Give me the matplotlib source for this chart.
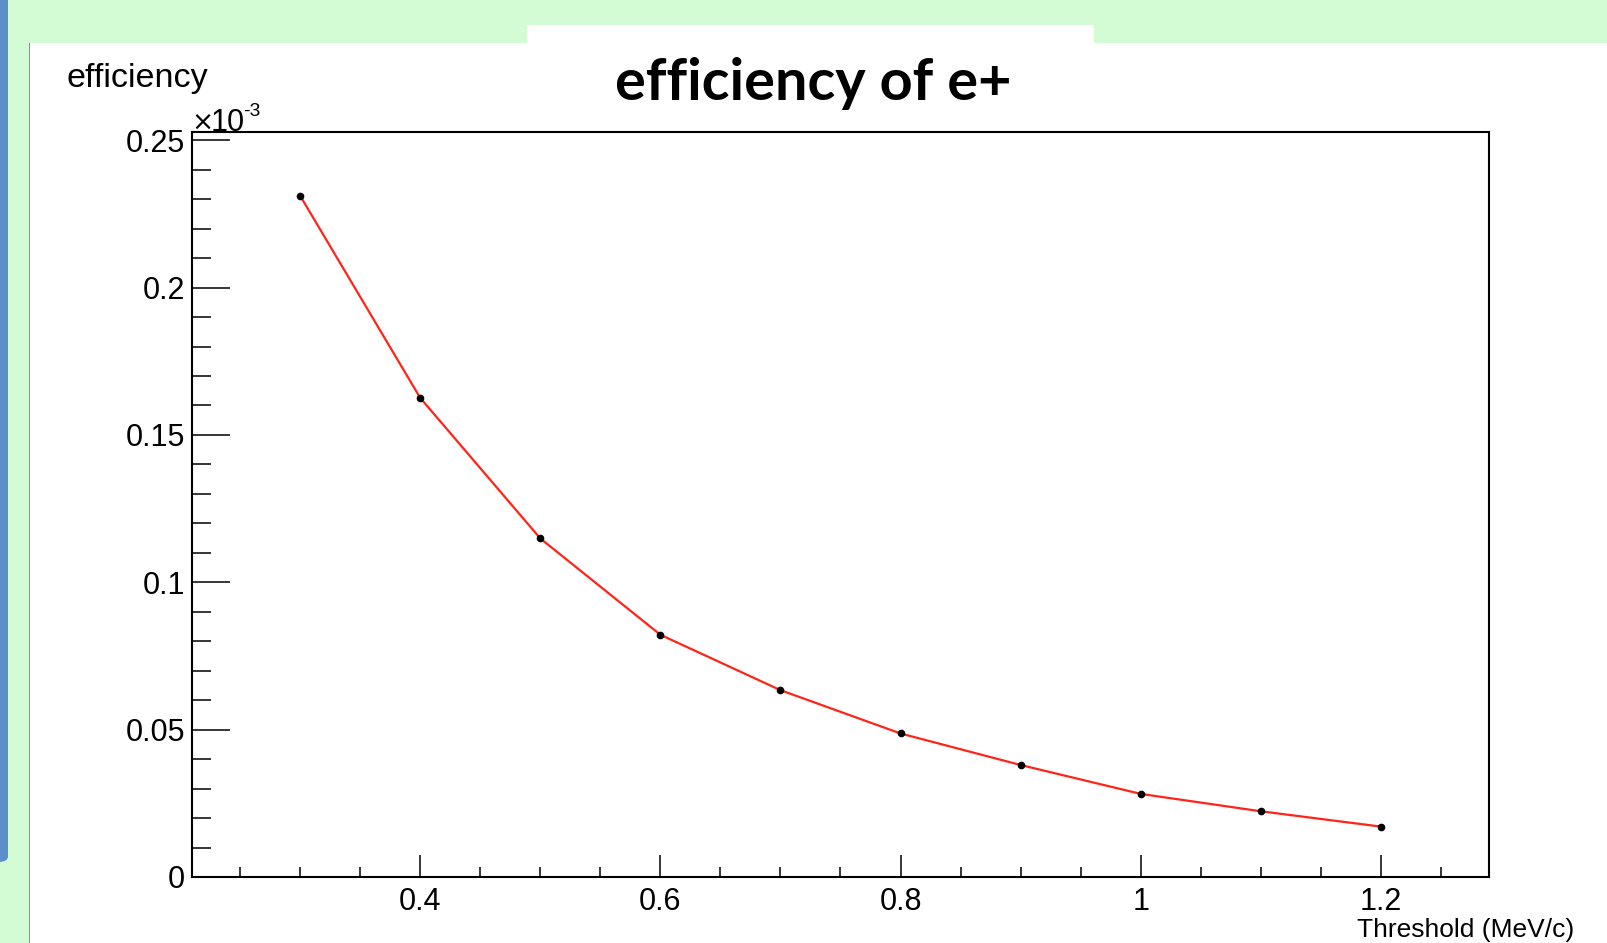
import matplotlib
matplotlib.use('Agg')
import matplotlib.pyplot as plt
from matplotlib.patches import Rectangle, FancyBboxPatch
from matplotlib.ticker import MultipleLocator, FuncFormatter

# -------------------------------------------------------------------------------------------------------
threshold = [0.3, 0.4, 0.5, 0.6, 0.7, 0.8, 0.9, 1.0, 1.1, 1.2]
efficiency = [0.2312, 0.1626, 0.1149, 0.0822, 0.0634, 0.0487, 0.0380, 0.0282, 0.0223, 0.0171]  # x 1e-3

title = 'efficiency of e+'
x_title = 'Threshold (MeV/c)'
y_title = 'efficiency'

W, H = 1608, 943
green = '#d4fcd4'
blue = '#5b8fc9'


def fx(px):
    return px / W


def fy(py):
    # py counted from the top of the picture
    return 1 - py / H


# -------------------------------------------------------------------------------------------------------
def main():
    plt.rcParams['font.family'] = ['Liberation Sans', 'DejaVu Sans']
    fig = plt.figure(figsize=(W / 100, H / 100), dpi=100, facecolor='white')

    # slide decoration
    fig.patches.append(Rectangle((0, fy(43)), 1, 43 / H, transform=fig.transFigure,
                                 facecolor=green, edgecolor='none', zorder=0))
    fig.patches.append(Rectangle((0, 0), fx(29), 1, transform=fig.transFigure,
                                 facecolor=green, edgecolor='none', zorder=0))
    fig.patches.append(FancyBboxPatch((-0.01, fy(862)), fx(8) + 0.01, 1, transform=fig.transFigure,
                                      boxstyle='round,pad=0,rounding_size=0.006',
                                      facecolor=blue, edgecolor='none', zorder=1))
    fig.patches.append(Rectangle((fx(29), 0), fx(1.5), fy(43), transform=fig.transFigure,
                                 facecolor='#909090', edgecolor='none', zorder=1))
    fig.patches.append(Rectangle((fx(527), fy(43)), fx(1094 - 527), 18 / H, transform=fig.transFigure,
                                 facecolor='white', edgecolor='none', zorder=1))

    ax = fig.add_axes([fx(192), fy(877), fx(1489 - 192), (877 - 132) / H])
    ax.plot(threshold, efficiency, color='#ff2418', lw=1.6, zorder=2)
    ax.plot(threshold, efficiency, 'o', color='black', ms=4.5, zorder=3)

    ax.set_xlim(0.21, 1.29)
    ax.set_ylim(0, 0.2528)

    for s in ax.spines.values():
        s.set_linewidth(1.5)

    ax.xaxis.set_major_locator(MultipleLocator(0.2))
    ax.xaxis.set_minor_locator(MultipleLocator(0.05))
    ax.yaxis.set_major_locator(MultipleLocator(0.05))
    ax.yaxis.set_minor_locator(MultipleLocator(0.01))
    ax.xaxis.set_major_formatter(FuncFormatter(lambda v, p: '%g' % round(v, 3)))
    ax.yaxis.set_major_formatter(FuncFormatter(lambda v, p: '%g' % round(v, 3)))

    ax.tick_params(axis='both', which='both', direction='in', width=1.1, labelsize=22,
                   top=False, right=False)
    ax.tick_params(axis='x', which='major', length=16, pad=7)
    ax.tick_params(axis='x', which='minor', length=7.5)
    ax.tick_params(axis='y', which='major', length=27, pad=5)
    ax.tick_params(axis='y', which='minor', length=13.5)

    # ROOT style exponent label
    fig.text(fx(191), fy(131), '\u00d7', fontsize=19, va='baseline', ha='left',
             family=['DejaVu Sans'])
    fig.text(fx(211), fy(131), '10', fontsize=22, va='baseline', ha='left')
    fig.text(fx(243), fy(116), '-3', fontsize=14, va='baseline', ha='left')

    fig.text(fx(67), fy(78), y_title, fontsize=24.5, va='center', ha='left')
    fig.text(fx(1574), fy(942), x_title, fontsize=19, va='bottom', ha='right')
    fig.text(fx(813), fy(100), title, fontsize=41.5, fontweight='bold', family=['Lato', 'DejaVu Sans'],
             va='baseline', ha='center')

    fig.savefig('out.png', dpi=100, facecolor='white')


if __name__ == '__main__':
    main()
